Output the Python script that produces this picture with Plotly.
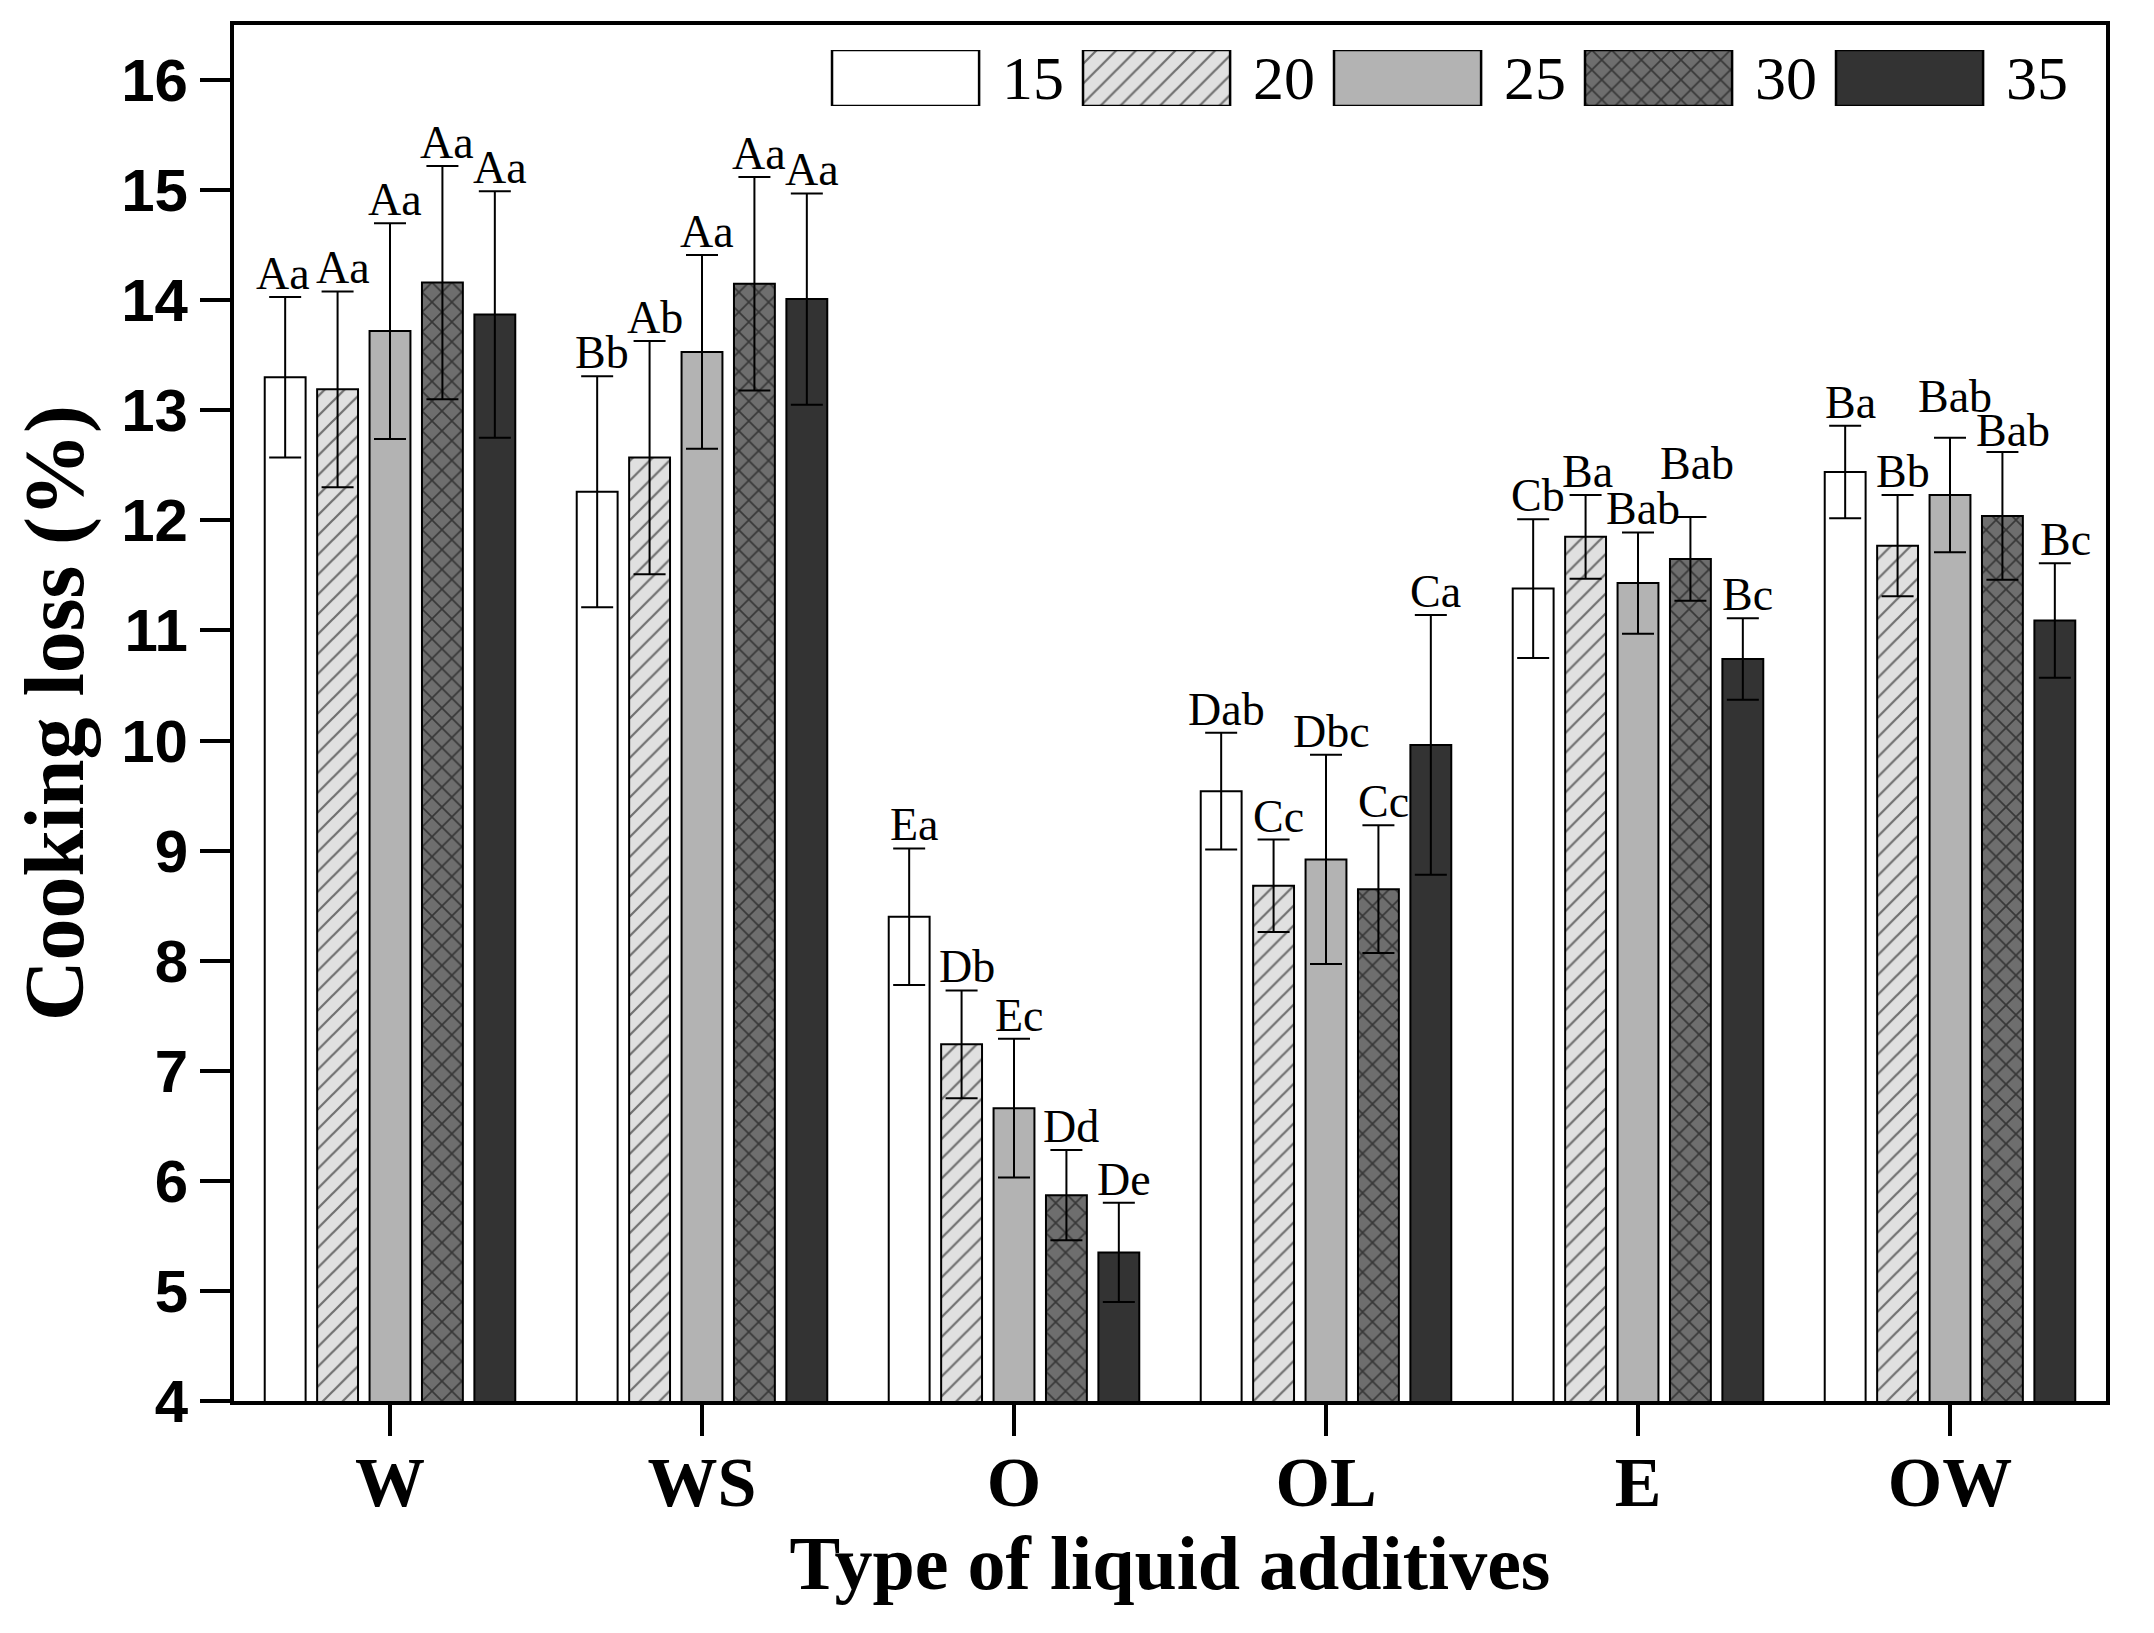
import plotly.graph_objects as go

categories = ["W", "WS", "O", "OL", "E", "OW"]
series_names = ["15", "20", "25", "30", "35"]

values_15 = [13.30, 12.26, 8.40, 9.54, 11.38, 12.44]
values_20 = [13.19, 12.57, 7.24, 8.68, 11.85, 11.77]
values_25 = [13.72, 13.53, 6.66, 8.92, 11.43, 12.23]
values_30 = [14.16, 14.15, 5.87, 8.65, 11.65, 12.04]
values_35 = [13.87, 14.01, 5.35, 9.96, 10.74, 11.09]

errors_15 = [0.73, 1.05, 0.62, 0.53, 0.63, 0.42]
errors_20 = [0.89, 1.06, 0.49, 0.42, 0.38, 0.46]
errors_25 = [0.98, 0.88, 0.63, 0.95, 0.46, 0.52]
errors_30 = [1.06, 0.97, 0.41, 0.58, 0.38, 0.58]
errors_35 = [1.12, 0.96, 0.45, 1.18, 0.37, 0.52]

letters_15 = ["Aa", "Bb", "Ea", "Dab", "Cb", "Ba"]
letters_20 = ["Aa", "Ab", "Db", "Cc", "Ba", "Bb"]
letters_25 = ["Aa", "Aa", "Ec", "Dbc", "Bab", "Bab"]
letters_30 = ["Aa", "Aa", "Dd", "Cc", "Bab", "Bab"]
letters_35 = ["Aa", "Aa", "De", "Ca", "Bc", "Bc"]

values = [values_15, values_20, values_25, values_30, values_35]
errors = [errors_15, errors_20, errors_25, errors_30, errors_35]
letters = [letters_15, letters_20, letters_25, letters_30, letters_35]

# styles
fills = ["#ffffff", "#e0e0e0", "#b3b3b3", "#6e6e6e", "#333333"]
shapes = ["", "/", "", "x", ""]
solidities = [0.12, 0.16, 0.12, 0.22, 0.12]
pattern_size = 14
serif = "Liberation Serif, Times New Roman, serif"
sans = "Liberation Sans, Arial, sans-serif"

# label nudges (pixels) to avoid overlaps: (series, category) -> (dx, dy)
base_dx = 5
label_nudges = {
    (0, 0): (-7, 0),
    (3, 4): (2, 30),
    (2, 5): (0, 18),
    (3, 5): (6, -2),
    (4, 5): (6, 0),
    (1, 4): (-3, 0),
}

W, H = 2146, 1625  # page body adds 8px offset
margin = dict(l=226, r=48, t=17, b=232)
bargap = 0.16
slot = (1 - bargap) / len(series_names)

fig = go.Figure()
for i, name in enumerate(series_names):
    fig.add_trace(go.Bar(
        x=categories, y=values[i], name=name, showlegend=False,
        marker=dict(color=fills[i], line=dict(color="black", width=2),
                    pattern=dict(shape=shapes[i], fgcolor="black", size=pattern_size,
                                 solidity=solidities[i], fillmode="overlay")),
        error_y=dict(type="data", array=errors[i], color="black", thickness=2, width=16),
        xaxis="x", yaxis="y",
    ))

annotations = []
for i in range(len(series_names)):
    for j in range(len(categories)):
        dx, dy = label_nudges.get((i, j), (0, 0))
        annotations.append(dict(
            x=j + (i - 2) * slot, y=values[i][j] + errors[i][j], xref="x", yref="y",
            text=letters[i][j], showarrow=False, xanchor="center", yanchor="bottom",
            xshift=base_dx + dx, yshift=-4 + dy,
            font=dict(family=serif, size=46, color="black"),
        ))

# manual legend with large patterned keys
legend_key_height = [1]
for i, name in enumerate(series_names):
    fig.add_trace(go.Bar(
        x=[i], y=legend_key_height, showlegend=False, width=0.586, offsetgroup="legend",
        marker=dict(color=fills[i], line=dict(color="black", width=2.5),
                    pattern=dict(shape=shapes[i], fgcolor="black", size=pattern_size,
                                 solidity=solidities[i], fillmode="overlay")),
        xaxis="x2", yaxis="y2", hoverinfo="skip",
    ))
    annotations.append(dict(
        x=i + 0.293 + 0.085, y=0.5, xref="x2", yref="y2", text=name, showarrow=False,
        xanchor="left", yanchor="middle", font=dict(family=serif, size=62, color="black"),
    ))

fig.update_layout(
    width=W, height=H, margin=margin,
    paper_bgcolor="white", plot_bgcolor="rgba(0,0,0,0)",
    barmode="group", bargap=bargap, bargroupgap=0.22,
    annotations=annotations,
    xaxis=dict(
        type="category", range=[-0.5, 5.5], showgrid=False, zeroline=False,
        showline=True, linecolor="black", linewidth=4, mirror=True,
        ticks="outside", ticklen=31, tickwidth=4, tickcolor="black",
        ticklabelstandoff=-14,
        tickfont=dict(family=serif, size=70, color="black", weight="bold"),
        title=dict(text="<b>Type of liquid additives</b>", standoff=2,
                   font=dict(family=serif, size=76, color="black")),
    ),
    yaxis=dict(
        range=[4, 16.5], dtick=1, showgrid=False, zeroline=False,
        showline=True, linecolor="black", linewidth=4, mirror=True,
        ticks="outside", ticklen=30, tickwidth=4, tickcolor="black",
        tickfont=dict(family=sans, size=60, color="black", weight="bold"),
        title=dict(text="<b>Cooking loss (%)</b>", standoff=30,
                   font=dict(family=serif, size=84, color="black")),
    ),
    xaxis2=dict(domain=[0.2917, 0.9621], range=[-0.5, 4.5], visible=False,
                anchor="y2", fixedrange=True),
    yaxis2=dict(domain=[0.9411, 0.9818], range=[0, 1], visible=False,
                anchor="x2", fixedrange=True),
)

fig.write_html("out.html")
